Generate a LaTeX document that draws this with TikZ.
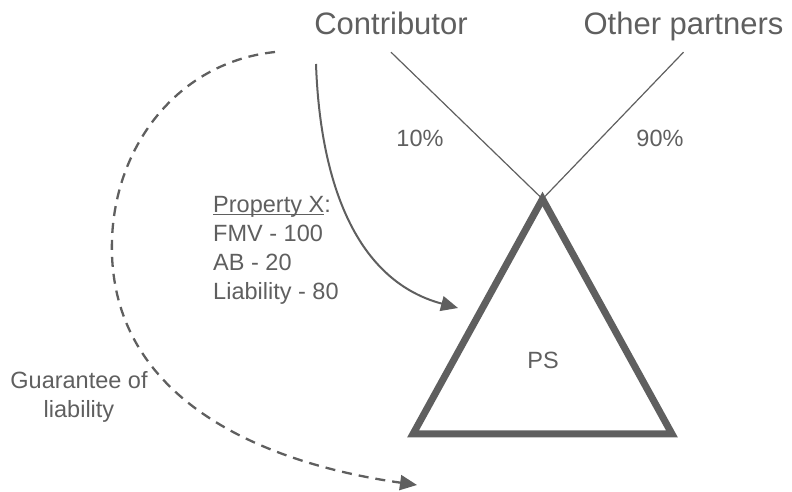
\documentclass[tikz,border=0pt]{standalone}
\usepackage{fontspec}
\setmainfont{Liberation Sans}
\usetikzlibrary{positioning,arrows.meta}
\definecolor{slategraytext}{RGB}{95,95,95}

\begin{document}
\begin{tikzpicture}[x=1pt,y=1pt,
		party/.style={slategraytext,font=\fontsize{31}{37}\selectfont,inner ysep=10pt,text depth=7pt},
		smalltext/.style={slategraytext,font=\fontsize{23.5}{29}\selectfont},
		ownline/.style={slategraytext,line width=1.2pt},
		moveline/.style={slategraytext,line width=2pt,-{Triangle[length=17pt,width=15pt]}}]
				\useasboundingbox (0,0) rectangle (792,492);
				% owners on top
				\node[party,anchor=base] (contributor) at (391,457) {Contributor};
				\node[party,anchor=base] (others) at (683.5,457) {Other partners};
				% partnership triangle
				\coordinate (apex) at (542.5,293);
				\coordinate (bl) at (413,58);
				\coordinate (br) at (672,58);
				\draw[slategraytext,line width=7pt,line join=miter] (apex)--(bl)--(br)--cycle;
				\node[smalltext,anchor=base] (ps) at (543,123) {PS};
				\draw[ownline] (contributor.south)--(apex);
				\draw[ownline] (others.south)--(apex);
				\node[smalltext,anchor=base] (share1) at (420,345) {10\%};
				\node[smalltext,anchor=base] (share2) at (660,345) {90\%};
				% property contributed
				\coordinate (propstart) at (316,428);
				\coordinate (propend) at (458,184);
				\draw[moveline] (propstart) to[out=-88,in=165] (propend);
				\node[smalltext,anchor=north west,align=left] (property) at (209.7,295)
					{\underline{\smash{Property X}}:\\FMV - 100\\AB - 20\\Liability - 80};
				% guarantee
				\coordinate (guarstart) at (275,440);
				\coordinate (guarmid) at (112,237);
				\coordinate (guarend) at (417,7);
				\draw[moveline,line width=2.3pt,dash pattern=on 10pt off 7pt] (guarstart) to[out=186,in=92] (guarmid)
					to[out=-88,in=172] (guarend);
				\node[smalltext,align=center] (guarantee) at (79,95) {Guarantee of\\liability};
			\end{tikzpicture}
\end{document}
